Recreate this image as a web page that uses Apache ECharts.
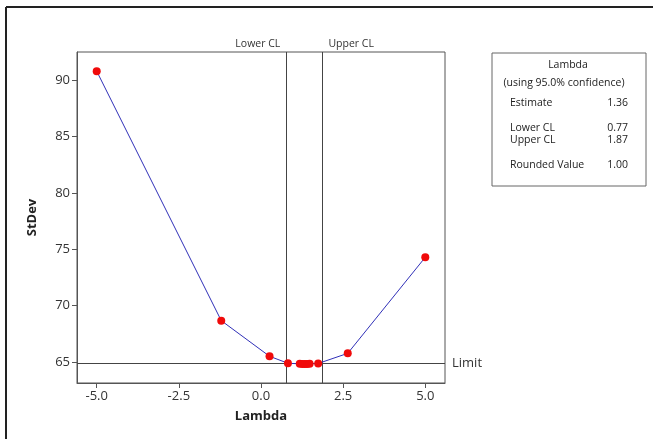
<!DOCTYPE html>
<html>
<head>
<meta charset="utf-8">
<script src="https://cdn.jsdelivr.net/npm/echarts@6/dist/echarts.min.js"></script>
<style>html,body{margin:0;padding:0;background:#fff;overflow:hidden}#c{width:653px;height:439px}</style>
</head>
<body>
<div id="c"></div>
<script>
const lambdaValues = [-5, -1.21, 0.26, 0.82, 1.18, 1.26, 1.33, 1.4, 1.48, 1.74, 2.64, 5];
const stdevValues = [90.8, 68.68, 65.52, 64.9, 64.85, 64.84, 64.84, 64.84, 64.85, 64.88, 65.78, 74.3];
const xTicks = [-5, -2.5, 0, 2.5, 5];
const yTicks = [65, 70, 75, 80, 85, 90];
const lowerCL = 0.77;
const upperCL = 1.87;
const limitValue = 64.93;
const legendRows = [
  ['Estimate', '1.36'],
  ['Lower CL', '0.77'],
  ['Upper CL', '1.87'],
  ['Rounded Value', '1.00']
];

const FONT = 'Open Sans';
const chart = echarts.init(document.getElementById('c'), null, {renderer: 'canvas'});
const points = lambdaValues.map((x, i) => [x, stdevValues[i]]);

const option = {
  animation: false,
  backgroundColor: '#fff',
  grid: {left: 77, right: 208, top: 52, bottom: 56, containLabel: false,
    show: true, borderColor: '#555', borderWidth: 1, backgroundColor: 'transparent'},
  xAxis: {
    type: 'value', min: -5.6, max: 5.6,
    name: 'Lambda', nameLocation: 'middle', nameGap: 27,
    nameTextStyle: {fontFamily: FONT, fontWeight: 'bold', fontSize: 13, color: '#222'},
    axisLine: {show: true, onZero: false, lineStyle: {color: '#555', width: 1}},
    axisTick: {show: true, length: 5, lineStyle: {color: '#555'}, customValues: xTicks},
    axisLabel: {fontFamily: FONT, fontSize: 13, color: '#333', margin: 7,
      customValues: xTicks, formatter: v => v.toFixed(1)},
    splitLine: {show: false}
  },
  yAxis: {
    type: 'value', min: 63.15, max: 92.5,
    name: 'StDev', nameLocation: 'middle', nameGap: 38, nameRotate: 90,
    nameTextStyle: {fontFamily: FONT, fontWeight: 'bold', fontSize: 13, color: '#222'},
    axisLine: {show: true, onZero: false, lineStyle: {color: '#555', width: 1}},
    axisTick: {show: true, length: 5, lineStyle: {color: '#555'}, customValues: yTicks},
    axisLabel: {fontFamily: FONT, fontSize: 13, color: '#333', margin: 7, customValues: yTicks},
    splitLine: {show: false}
  },
  series: [{
    type: 'line',
    data: points,
    symbol: 'circle', symbolSize: 8,
    itemStyle: {color: '#f00a0a'},
    lineStyle: {color: '#3030b8', width: 1},
    z: 5,
    markLine: {
      silent: true, symbol: 'none',
      lineStyle: {color: '#444', width: 1, type: 'solid'},
      data: [
        {xAxis: lowerCL, label: {show: false}},
        {xAxis: upperCL, label: {show: false}},
        {yAxis: limitValue, label: {show: true, position: 'end', formatter: 'Limit',
          fontFamily: FONT, fontSize: 13, color: '#333', distance: 7}}
      ]
    }
  }]
};
chart.setOption(option);

const lowerX = chart.convertToPixel({gridIndex: 0}, [lowerCL, 0])[0];
const upperX = chart.convertToPixel({gridIndex: 0}, [upperCL, 0])[0];
const topY = 52;

const graphics = [
  {type: 'line', shape: {x1: 6, y1: 7, x2: 653, y2: 7},
   style: {stroke: '#222', lineWidth: 2}, silent: true},
  {type: 'line', shape: {x1: 6, y1: 7, x2: 6, y2: 439},
   style: {stroke: '#222', lineWidth: 2}, silent: true},
  {type: 'text', x: lowerX - 6, y: topY - 2,
   style: {text: 'Lower CL', fontFamily: FONT, fontSize: 10.5, fill: '#333', align: 'right', verticalAlign: 'bottom'}},
  {type: 'text', x: upperX + 6, y: topY - 2,
   style: {text: 'Upper CL', fontFamily: FONT, fontSize: 10.5, fill: '#333', align: 'left', verticalAlign: 'bottom'}},
  {type: 'rect', shape: {x: 492, y: 53, width: 154, height: 133},
   style: {fill: '#fff', stroke: '#666', lineWidth: 1}},
  {type: 'text', x: 568, y: 65,
   style: {text: 'Lambda', fontFamily: FONT, fontSize: 10.5, fill: '#222', align: 'center', verticalAlign: 'middle'}},
  {type: 'text', x: 564, y: 83,
   style: {text: '(using 95.0% confidence)', fontFamily: FONT, fontSize: 10.5, fill: '#222', align: 'center', verticalAlign: 'middle'}}
];
const rowY = [103, 128, 140, 165];
legendRows.forEach((r, i) => {
  graphics.push({type: 'text', x: 510, y: rowY[i],
    style: {text: r[0], fontFamily: FONT, fontSize: 10.5, fill: '#222', align: 'left', verticalAlign: 'middle'}});
  graphics.push({type: 'text', x: 628, y: rowY[i],
    style: {text: r[1], fontFamily: FONT, fontSize: 10.5, fill: '#222', align: 'right', verticalAlign: 'middle'}});
});
chart.setOption({graphic: graphics});
</script>
</body>
</html>
